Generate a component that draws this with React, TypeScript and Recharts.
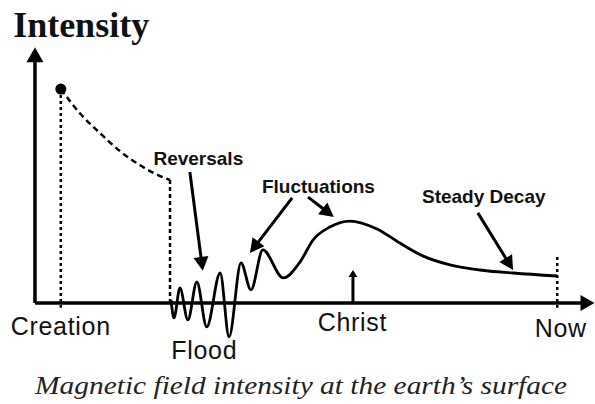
import { LineChart, Line, XAxis, YAxis, ReferenceLine, ReferenceDot } from "recharts";

// time: 0 = Creation, 100 = Now; intensity: 100 = value at Creation
const earlyTime = [0, 3.8, 7.9, 11.9, 15.9, 20.0, 22.0];
const earlyIntensity = [100, 88.8, 79.4, 71.0, 64.5, 59.3, 57.5];

const fieldTime = [22.2, 22.8, 24.0, 25.6, 27.4, 29.4, 32.1, 33.9, 36.3, 38.3, 40.7, 44.8, 48.2, 50.8, 54.2, 58.2, 63.7, 68.3, 72.9, 78.4, 84.4, 91.1, 100];
const fieldIntensity = [1.4, -7.0, 7.0, -7.9, 9.8, -11.2, 14.0, -15.9, 18.7, 6.1, 24.8, 11.7, 19.2, 29.4, 35.5, 38.3, 34.6, 28.0, 22.0, 17.8, 15.4, 14.0, 12.6];

// events along the time axis
const eventNames = ["Creation", "Flood", "Christ", "Now"];
const eventTime = [0, 28.9, 58.75, 100.7];
const eventLabelY = [-15, -26.2, -13.1, -15.9];
const christTime = 58.85;
const christMark = 15.4;

// annotations: label, label anchor, arrow from -> to
const noteNames = ["Reversals", "Fluctuations", "Fluctuations", "Steady Decay"];
const noteLabelT = [27.7, 51.9, null, 85.2];
const noteLabelI = [64.5, 51.4, null, 46.7];
const noteFromT = [26.0, 46.6, 49.8, 84.0];
const noteFromI = [61.2, 49.1, 49.5, 42.1];
const noteToT = [28.6, 38.1, 55.0, 91.1];
const noteToI = [15.0, 23.4, 40.2, 15.4];

const earlyData = earlyTime.map((t, i) => ({ t, v: earlyIntensity[i] }));
const fieldData = fieldTime.map((t, i) => ({ t, v: fieldIntensity[i] }));

function arrowShape(head: number, half: number, width: number) {
  return (p: any) => {
    const { x1, y1, x2, y2 } = p;
    const dx = x2 - x1;
    const dy = y2 - y1;
    const len = Math.hypot(dx, dy) || 1;
    const ux = dx / len;
    const uy = dy / len;
    const bx = x2 - ux * head;
    const by = y2 - uy * head;
    return (
      <g>
        <line x1={x1} y1={y1} x2={bx + ux} y2={by + uy} stroke='#000' strokeWidth={width} />
        <polygon
          points={`${x2},${y2} ${bx - uy * half},${by + ux * half} ${bx + uy * half},${by - ux * half}`}
          fill='#000'
        />
      </g>
    );
  };
}

const textShape = (text: string, style: any) => (p: any) => (
  <text x={p.cx} y={p.cy} {...style}>
    {text}
  </text>
);

const SANS = "'Liberation Sans', Arial, sans-serif";
const SERIF = "'Liberation Serif', 'Times New Roman', serif";

const sansLabel = { fontFamily: SANS, fontSize: 25, letterSpacing: 0.7, textAnchor: "middle", fill: "#111" };
const noteLabel = { fontFamily: SANS, fontSize: 19, fontWeight: "bold", textAnchor: "middle", fill: "#111" };

export default function App() {
  return (
    <div style={{ position: "absolute", left: 0, top: 0, width: 595, height: 404, background: "#fff" }}>
      <LineChart width={595} height={404} margin={{ top: 42, right: 3, bottom: 54, left: 31 }}>
        <XAxis type='number' dataKey='t' domain={[-6, 107]} allowDataOverflow hide />
        <YAxis type='number' dataKey='v' domain={[-22, 122]} allowDataOverflow hide />

        {/* axes */}
        <ReferenceLine segment={[{ x: -5.2, y: 0 }, { x: -5.2, y: 119.6 }]} ifOverflow='visible' shape={arrowShape(15, 8.5, 3.5)} />
        <ReferenceLine segment={[{ x: -5.2, y: 0 }, { x: 107.5, y: 0 }]} ifOverflow='visible' shape={arrowShape(14, 8, 3.5)} />

        {/* dotted markers */}
        <ReferenceLine segment={[{ x: 0, y: 100 }, { x: 0, y: -2.3 }]} ifOverflow='visible' stroke='#000' strokeWidth={2.5} strokeDasharray='3 3' />
        <ReferenceLine segment={[{ x: 22.0, y: 57.5 }, { x: 22.0, y: 0 }]} ifOverflow='visible' stroke='#000' strokeWidth={2.5} strokeDasharray='4 3' />
        <ReferenceLine segment={[{ x: 100, y: 21.5 }, { x: 100, y: -2.3 }]} ifOverflow='visible' stroke='#000' strokeWidth={2.5} strokeDasharray='3 3' />

        <Line data={earlyData} dataKey='v' type='monotone' stroke='#000' strokeWidth={2.5} strokeDasharray='6 4' dot={false} isAnimationActive={false} />
        <Line data={fieldData} dataKey='v' type='monotone' stroke='#000' strokeWidth={2.8} dot={false} isAnimationActive={false} />

        <ReferenceDot x={0} y={100} r={5.5} fill='#000' stroke='none' ifOverflow='visible' />

        {/* Christ marker */}
        <ReferenceLine segment={[{ x: christTime, y: 0 }, { x: christTime, y: christMark }]} ifOverflow='visible' shape={arrowShape(7, 4.5, 3)} />

        {/* annotation arrows */}
        {noteNames.map((n, i) => (
          <ReferenceLine
            key={`arrow-${i}`}
            segment={[{ x: noteFromT[i], y: noteFromI[i] }, { x: noteToT[i], y: noteToI[i] }]}
            ifOverflow='visible'
            shape={arrowShape(14, 7.5, 3)}
          />
        ))}
        {noteNames.map((n, i) =>
          noteLabelT[i] == null ? null : (
            <ReferenceDot key={`note-${i}`} x={noteLabelT[i] as number} y={noteLabelI[i] as number} r={1} ifOverflow='visible' shape={textShape(n, noteLabel)} />
          )
        )}

        {eventNames.map((n, i) => (
          <ReferenceDot key={`event-${i}`} x={eventTime[i]} y={eventLabelY[i]} r={1} ifOverflow='visible' shape={textShape(n, sansLabel)} />
        ))}

        <ReferenceDot
          x={-9.6}
          y={124.3}
          r={1}
          ifOverflow='visible'
          shape={textShape("Intensity", { fontFamily: SERIF, fontSize: 36, fontWeight: "bold", fill: "#111" })}
        />
        <ReferenceDot
          x={48.4}
          y={-42.8}
          r={1}
          ifOverflow='visible'
          shape={textShape("Magnetic field intensity at the earth\u2019s surface", {
            fontFamily: SERIF,
            fontSize: 26,
            fontStyle: "italic",
            textAnchor: "middle",
            textLength: 532,
            lengthAdjust: "spacingAndGlyphs",
            fill: "#222",
          })}
        />
      </LineChart>
    </div>
  );
}
